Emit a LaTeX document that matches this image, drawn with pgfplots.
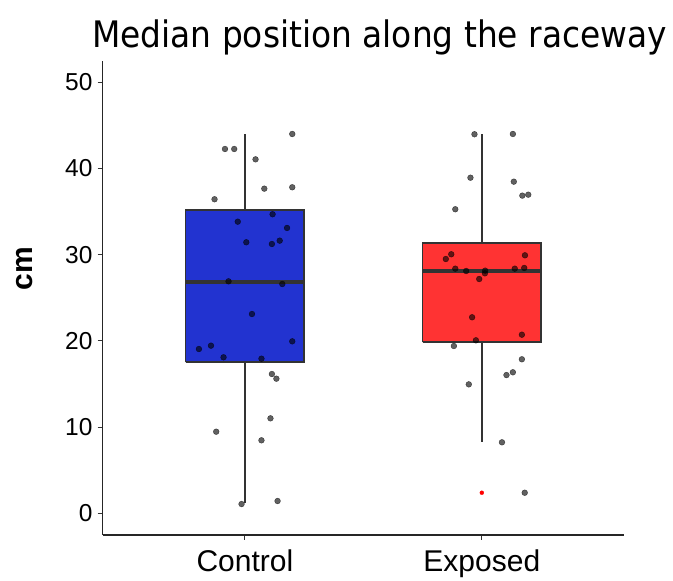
\documentclass[border=0pt]{standalone}
\usepackage{fontspec}
\setmainfont{Liberation Sans}
\newfontfamily\titlefont[FakeStretch=0.9]{DejaVu Sans}
\usepackage{pgfplots}
\pgfplotsset{compat=1.18}
\definecolor{boxblue}{RGB}{34,51,208}
\definecolor{boxred}{RGB}{255,51,51}
\definecolor{lin}{RGB}{51,51,51}
\begin{document}
\begin{tikzpicture}
\path[use as bounding box] (0,0) rectangle (673bp,581bp);
\begin{axis}[
  at={(102.7bp,46.1bp)}, anchor=south west,
  scale only axis, width=521.3bp, height=474.2bp,
  xmin=0.4, xmax=2.6, ymin=-2.5, ymax=52.5,
  axis lines*=left,
  axis line style={line width=1.2bp, black!85},
  xtick={1,2}, xticklabels={Control,Exposed},
  ytick={0,10,20,30,40,50},
  tick align=outside, major tick length=5bp,
  tick style={line width=1bp, lin},
  /pgf/number format/assume math mode=true,
  yticklabel style={font=\fontsize{24.5bp}{29bp}\selectfont, inner sep=0pt, xshift=-5bp},
  xticklabel style={font=\fontsize{30bp}{36bp}\selectfont, inner sep=0pt, yshift=-10bp},
  clip=false,
]
% whiskers
\addplot[draw=lin, line width=1.7bp] coordinates {(1,35.19) (1,43.97)};
\addplot[draw=lin, line width=1.7bp] coordinates {(1,17.52) (1,1.16)};
\addplot[draw=lin, line width=1.7bp] coordinates {(2,31.36) (2,43.97)};
\addplot[draw=lin, line width=1.7bp] coordinates {(2,19.84) (2,8.24)};
% boxes
\addplot[fill=boxblue, draw=lin, line width=1.7bp, line join=miter] coordinates {(0.75,17.52) (1.25,17.52) (1.25,35.19) (0.75,35.19) (0.75,17.52)};
\addplot[fill=boxred, draw=lin, line width=1.7bp, line join=miter] coordinates {(1.75,19.84) (2.25,19.84) (2.25,31.36) (1.75,31.36) (1.75,19.84)};
% medians
\addplot[draw=lin, line width=3.6bp] coordinates {(0.75,26.8) (1.25,26.8)};
\addplot[draw=lin, line width=3.6bp] coordinates {(1.75,28.11) (2.25,28.11)};
% outlier
\addplot[only marks, mark=*, mark size=2bp, color=red, mark options={draw=red, fill=red, line width=0.3bp}] coordinates {(2,2.39)};
% jittered points
\addplot[only marks, mark=*, mark size=2.9bp,
   mark options={draw=none, fill=black, opacity=0.62}] table {
x y
1.200 44.00
0.916 42.26
0.955 42.26
1.045 41.06
1.082 37.66
1.200 37.82
0.872 36.43
1.117 34.69
0.970 33.83
1.178 33.10
1.006 31.44
1.114 31.24
1.147 31.63
0.931 26.91
1.158 26.60
1.030 23.12
1.200 19.95
0.806 19.06
0.857 19.45
0.910 18.10
1.070 17.94
1.114 16.16
1.133 15.62
1.108 11.02
0.879 9.47
1.070 8.47
0.986 1.08
1.138 1.43
1.969 43.97
2.131 44.00
1.952 38.93
2.135 38.47
2.171 36.85
2.196 36.96
1.888 35.27
1.848 29.50
1.871 30.05
2.182 29.93
1.888 28.38
1.934 28.11
2.014 28.15
2.013 27.84
1.989 27.18
2.139 28.38
2.179 28.46
1.959 22.74
1.975 20.07
2.169 20.72
1.882 19.41
2.169 17.87
2.104 16.04
2.131 16.36
1.945 14.96
2.085 8.24
2.181 2.39
};
\end{axis}
\node[anchor=base, inner sep=0pt, font=\titlefont\fontsize{36.5bp}{40bp}\selectfont] at (379.5bp,533bp) {Median position along the raceway};
\node[rotate=90, inner sep=0pt, font=\bfseries\fontsize{30bp}{36bp}\selectfont] at (25bp,312bp) {cm};
\end{tikzpicture}
\end{document}
